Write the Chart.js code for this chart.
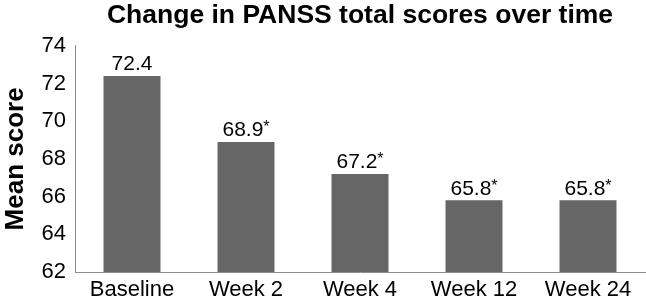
<!DOCTYPE html>
<html>
<head>
<meta charset="utf-8">
<script src="https://cdn.jsdelivr.net/npm/chart.js@4"></script>
<style>
  html, body { margin: 0; padding: 0; background: #fff; }
  #wrap { width: 646px; height: 297px; }
</style>
</head>
<body>
<div id="wrap"><canvas id="panss"></canvas></div>
<script>
// PANSS total score chart
const categories = ['Baseline', 'Week 2', 'Week 4', 'Week 12', 'Week 24'];
const meanScores = [72.4, 68.9, 67.2, 65.8, 65.8];
const significant = [false, true, true, true, true];
const yTicks = [62, 64, 66, 68, 70, 72, 74];

const FONT = '"Liberation Sans", Arial, sans-serif';

function barFill(ctx) {
    const chart = ctx.chart;
    const el = chart.getDatasetMeta(0).data[ctx.dataIndex];
    if (!el || !chart.chartArea) return '#666';
    const top = el.y, bottom = chart.scales.y.bottom;
    if (!isFinite(top) || top === bottom) return '#666';
    const g = chart.ctx.createLinearGradient(0, top, 0, bottom);
    g.addColorStop(0, '#7a7a7a');
    g.addColorStop(1, '#545454');
    return g;
}

const valueLabels = {
    id: 'valueLabels',
    afterDatasetsDraw(chart) {
        const c = chart.ctx;
        c.save();
        c.fillStyle = '#000';
        c.textBaseline = 'bottom';
        chart.getDatasetMeta(0).data.forEach((bar, i) => {
            const txt = meanScores[i].toFixed(1);
            c.font = '21px ' + FONT;
            const w = c.measureText(txt).width;
            let starW = 0;
            if (significant[i]) { c.font = '16px ' + FONT; starW = c.measureText('*').width; }
            const x0 = bar.x - (w + starW) / 2;
            c.font = '21px ' + FONT;
            c.textAlign = 'left';
            c.fillText(txt, x0, bar.y - 1);
            if (significant[i]) {
                c.font = '16px ' + FONT;
                c.fillText('*', x0 + w, bar.y - 6);
            }
        });
        c.restore();
    }
};

new Chart(document.getElementById('panss'), {
    type: 'bar',
    data: {
        labels: categories,
        datasets: [{ data: meanScores, backgroundColor: barFill, borderWidth: 0,
            categoryPercentage: 1, barPercentage: 0.5 }]
    },
    options: {
        responsive: true, maintainAspectRatio: false, animation: false,
        layout: { padding: { top: 0, right: 1, bottom: 0, left: 0 } },
        plugins: {
            legend: { display: false },
            tooltip: { enabled: false },
            title: { display: true, fullSize: false, text: 'Change in PANSS total scores over time', color: '#000',
                font: { family: FONT, size: 26.5, weight: 'bold', lineHeight: 1.2 }, padding: { top: 0, bottom: 14 } }
        },
        scales: {
            x: {
                grid: { display: false, drawTicks: false },
                border: { color: '#8c8c8c', width: 1 },
                ticks: { color: '#000', font: { family: FONT, size: 22 }, padding: 5 },
                afterFit: axis => { axis.height = 25; }
            },
            y: {
                min: 62, max: 74,
                afterBuildTicks: axis => { axis.ticks = yTicks.map(v => ({ value: v })); },
                grid: { display: false, drawOnChartArea: false, drawTicks: true, tickLength: 6, color: '#8c8c8c' },
                border: { color: '#8c8c8c', width: 1 },
                ticks: { color: '#000', font: { family: FONT, size: 22 }, padding: 3 },
                title: { display: true, text: 'Mean score', color: '#000',
                    font: { family: FONT, size: 26, weight: 'bold' }, padding: { top: 0, bottom: 0 } },
                afterFit: axis => { axis.width = 75; }
            }
        }
    },
    plugins: [valueLabels]
});
</script>
</body>
</html>
